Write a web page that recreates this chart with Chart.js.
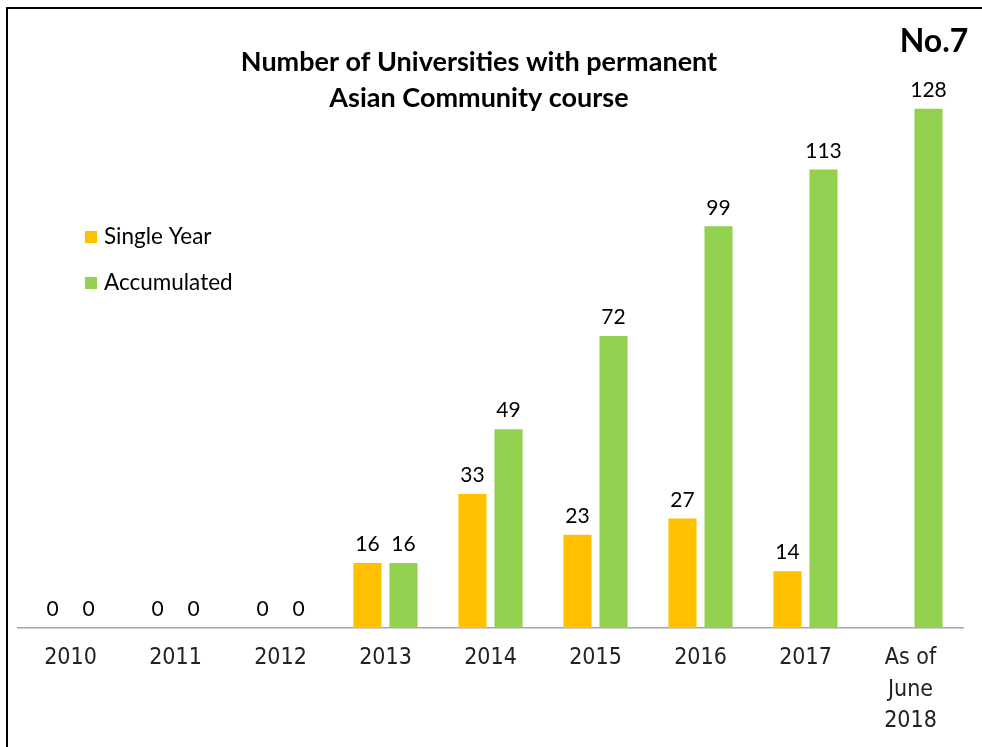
<!DOCTYPE html>
<html>
<head>
<meta charset="utf-8">
<script src="https://cdn.jsdelivr.net/npm/chart.js@4.4.1/dist/chart.umd.min.js"></script>
<style>
    html, body { margin: 0; padding: 0; background: #fff; overflow: hidden; }
    #frame { position: absolute; left: 6px; top: 7px; width: 1000px; height: 800px; border: 2px solid #000; box-sizing: border-box; }
    #wrap { position: absolute; left: 0; top: 0; width: 982px; height: 747px; }
</style>
</head>
<body>
<div id="frame"></div>
<div id="wrap"><canvas id="chart"></canvas></div>
<script>
// Datos del gráfico
const categories = ['2010', '2011', '2012', '2013', '2014', '2015', '2016', '2017', ['As of', 'June', '2018']];
const singleYear = [0, 0, 0, 16, 33, 23, 27, 14, null];
const accumulated = [0, 0, 0, 16, 49, 72, 99, 113, 128];
const seriesNames = ['Single Year', 'Accumulated'];
const titleLines = ['Number of Universities with permanent', 'Asian Community course'];
const badge = 'No.7';

const YELLOW = '#FFC000';
const GREEN = '#92D050';
const LABEL_FONT = "'Lato', 'Open Sans', sans-serif";

// Plugin propio: título, leyenda y etiquetas de valores
const decorations = {
    id: 'decorations',
    afterDatasetsDraw(chart) {
        const ctx = chart.ctx;
        ctx.save();

        // Etiquetas sobre las barras
        ctx.fillStyle = '#000';
        ctx.font = `21px ${LABEL_FONT}`;
        ctx.textAlign = 'center';
        ctx.textBaseline = 'bottom';
        chart.data.datasets.forEach((ds, i) => {
            const meta = chart.getDatasetMeta(i);
            meta.data.forEach((bar, j) => {
                const v = ds.data[j];
                if (v === null || v === undefined) return;
                ctx.fillText(String(v), bar.x, bar.y - 8);
            });
        });

        // Título
        ctx.font = `bold 27px ${LABEL_FONT}`;
        ctx.textBaseline = 'middle';
        ctx.fillText(titleLines[0], 479, 62);
        ctx.fillText(titleLines[1], 479, 98);

        // Número de figura
        ctx.font = `bold 32px ${LABEL_FONT}`;
        ctx.fillText(badge, 934, 42);

        // Leyenda
        const colors = [YELLOW, GREEN];
        const ys = [237, 283];
        ctx.font = `22.5px ${LABEL_FONT}`;
        ctx.textAlign = 'left';
        seriesNames.forEach((name, i) => {
            ctx.fillStyle = colors[i];
            ctx.fillRect(85, ys[i] - 6, 12, 12);
            ctx.fillStyle = '#000';
            ctx.fillText(name, 104, ys[i]);
        });

        ctx.restore();
    }
};

new Chart(document.getElementById('chart'), {
    type: 'bar',
    plugins: [decorations],
    data: {
        labels: categories,
        datasets: [{
            label: seriesNames[0],
            data: singleYear,
            backgroundColor: YELLOW,
            categoryPercentage: 0.686,
            barPercentage: 0.78
        }, {
            label: seriesNames[1],
            data: accumulated,
            backgroundColor: GREEN,
            categoryPercentage: 0.686,
            barPercentage: 0.78
        }]
    },
    options: {
        responsive: true,
        maintainAspectRatio: false,
        animation: false,
        layout: { padding: { left: 18, right: 19, top: 60, bottom: 0 } },
        plugins: {
            legend: { display: false },
            tooltip: { enabled: false }
        },
        scales: {
            y: {
                display: false,
                min: 0,
                max: 140
            },
            x: {
                grid: { display: false },
                border: { display: true, color: '#a6a6a6', width: 1.5 },
                ticks: {
                    color: '#222',
                    padding: 7,
                    maxRotation: 0,
                    autoSkip: false,
                    font: { family: "'DejaVu Sans Condensed', sans-serif", size: 23, lineHeight: 1.35 }
                },
                afterFit(scale) { scale.height = 119; }
            }
        }
    }
});
</script>
</body>
</html>
